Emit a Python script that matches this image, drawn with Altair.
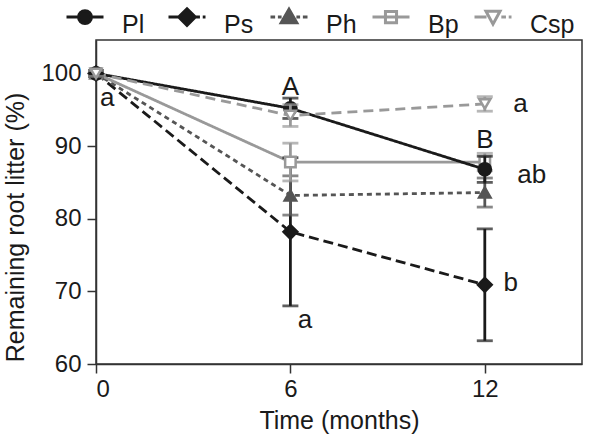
import altair as alt
import pandas as pd

series = ["Pl", "Ps", "Ph", "Bp", "Csp"]
months = [0, 6, 12]

mean_Pl = [100, 95.2, 86.8]
err_Pl = [0.4, 1.4, 1.8]
mean_Ps = [100, 78.2, 70.9]
err_Ps = [0.4, 10.2, 7.7]
mean_Ph = [100, 83.2, 83.6]
err_Ph = [0.4, 2.7, 2.0]
mean_Bp = [100, 87.8, 87.8]
err_Bp = [0.4, 2.6, 1.2]
mean_Csp = [100, 94.2, 95.8]
err_Csp = [0.4, 1.5, 1.0]

means = {"Pl": mean_Pl, "Ps": mean_Ps, "Ph": mean_Ph, "Bp": mean_Bp, "Csp": mean_Csp}
errs = {"Pl": err_Pl, "Ps": err_Ps, "Ph": err_Ph, "Bp": err_Bp, "Csp": err_Csp}

ann_text = ["a", "A", "a", "B", "a", "ab", "b"]
ann_x = [0.35, 6.0, 6.45, 12.0, 13.1, 13.45, 12.8]
ann_y = [96.6, 98.1, 66.0, 90.8, 95.8, 86.0, 71.1]

stroke_col = {"Pl": "#1a1a1a", "Ps": "#1a1a1a", "Ph": "#555555", "Bp": "#999999", "Csp": "#999999"}
fill_col = {"Pl": "#1a1a1a", "Ps": "#1a1a1a", "Ph": "#555555", "Bp": "#ffffff", "Csp": "#ffffff"}
shapes = {"Pl": "circle", "Ps": "diamond", "Ph": "triangle-up", "Bp": "square", "Csp": "triangle-down"}
sizes = {"Pl": 150, "Ps": 190, "Ph": 130, "Bp": 110, "Csp": 120}
dashes = {"Pl": [1, 0], "Ps": [10, 5], "Ph": [5, 4], "Bp": [1, 0], "Csp": [10, 6]}

c = -0.4
legend_paths = [
    f"M-1,{c}L1,{c}M-0.35,{c}A0.35,0.35,0,1,1,0.35,{c}A0.35,0.35,0,1,1,-0.35,{c}Z",
    f"M-1,{c}L-0.3,{c}M0.45,{c}L0.7,{c}M0.85,{c}L1,{c}M0,{c-0.45}L0.45,{c}L0,{c+0.45}L-0.45,{c}Z",
    f"M-1,{c}L-0.75,{c}M-0.6,{c}L-0.4,{c}M0.4,{c}L0.6,{c}M0.75,{c}L1,{c}M0,{c-0.42}L0.42,{c+0.3}L-0.42,{c+0.3}Z",
    f"M-1,{c}L1,{c}M-0.3,{c-0.3}L0.3,{c-0.3}L0.3,{c+0.3}L-0.3,{c+0.3}Z",
    f"M-1,{c}L-0.35,{c}M0.45,{c}L0.7,{c}M0.85,{c}L1,{c}M-0.38,{c-0.32}L0.38,{c-0.32}L0,{c+0.38}Z",
]

rows = []
for s in series:
    for m, v, e in zip(months, means[s], errs[s]):
        rows.append({"series": s, "month": m, "mean": v, "lo": v - e, "hi": v + e})
df = pd.DataFrame(rows)

xs = alt.Scale(domain=[0, 15], nice=False)
ys = alt.Scale(domain=[60, 104.6], nice=False, zero=False)
X = alt.X("month:Q", scale=xs, title="Time (months)",
          axis=alt.Axis(values=[0, 6, 12], grid=False, titlePadding=7))
Y = alt.Y("mean:Q", scale=ys, title="Remaining root litter (%)",
          axis=alt.Axis(values=[60, 70, 80, 90, 100], grid=False, titlePadding=12, titleY=187,
                        labelPadding=6))

layers = []
order = ["Ps", "Ph", "Bp", "Pl", "Csp"]
for s in order:
    d = df[df.series == s]
    base = alt.Chart(d)
    layers.append(base.mark_line(color=stroke_col[s], strokeWidth=2.8, strokeDash=dashes[s]).encode(x=X, y=Y))
for s in order:
    d = df[df.series == s]
    base = alt.Chart(d)
    layers.append(base.mark_rule(color=stroke_col[s], strokeWidth=2.8).encode(x="month:Q", y="lo:Q", y2="hi:Q"))
    layers.append(base.mark_tick(color=stroke_col[s], orient="horizontal", size=16, thickness=2.8).encode(x="month:Q", y="lo:Q"))
    layers.append(base.mark_tick(color=stroke_col[s], orient="horizontal", size=16, thickness=2.8).encode(x="month:Q", y="hi:Q"))
    layers.append(base.mark_point(shape=shapes[s], size=sizes[s], filled=False, stroke=stroke_col[s],
                                  fill=fill_col[s], fillOpacity=1, strokeWidth=2.5, opacity=1).encode(x="month:Q", y="mean:Q"))

ann = pd.DataFrame({"t": ann_text, "x": ann_x, "y": ann_y})
layers.append(alt.Chart(ann).mark_text(fontSize=26, font="Liberation Sans", color="#1a1a1a").encode(
    x="x:Q", y="y:Q", text="t:N"))

leg_df = pd.DataFrame({"series": series, "month": [0] * 5, "mean": [100] * 5})
legend = alt.Legend(orient="none", legendX=-31, legendY=-35.5, direction="horizontal", columns=5,
                    symbolSize=1369, symbolStrokeWidth=3, labelFontSize=25, labelFont="Liberation Sans",
                    labelColor="#1a1a1a", labelOffset=17, columnPadding=-6, gridAlign="all",
                    symbolOpacity=1, title=None)
layers.append(alt.Chart(leg_df).mark_point(opacity=0, filled=False).encode(
    x="month:Q", y="mean:Q",
    shape=alt.Shape("series:N", scale=alt.Scale(domain=series, range=legend_paths), legend=legend, title=None),
    stroke=alt.Stroke("series:N", scale=alt.Scale(domain=series, range=[stroke_col[s] for s in series]), legend=legend, title=None),
    fill=alt.Fill("series:N", scale=alt.Scale(domain=series, range=[fill_col[s] for s in series]), legend=legend, title=None),
))

chart = alt.layer(*layers).properties(
    width=486, height=324,
    autosize=alt.AutoSizeParams(type="none"),
    padding={"left": 96, "top": 40, "right": 8, "bottom": 73},
    background="white",
).configure_view(stroke="#333333", strokeWidth=1.5).configure_axis(
    domainColor="#333333", domainWidth=1.5, tickColor="#333333", tickWidth=1.5, tickSize=9,
    labelFont="Liberation Sans", labelFontSize=24, labelColor="#1a1a1a", labelPadding=4,
    titleFont="Liberation Sans", titleFontSize=25, titleFontWeight="normal", titleColor="#1a1a1a",
)

chart.save("out.html", embed_options={"renderer": "svg", "actions": False})
